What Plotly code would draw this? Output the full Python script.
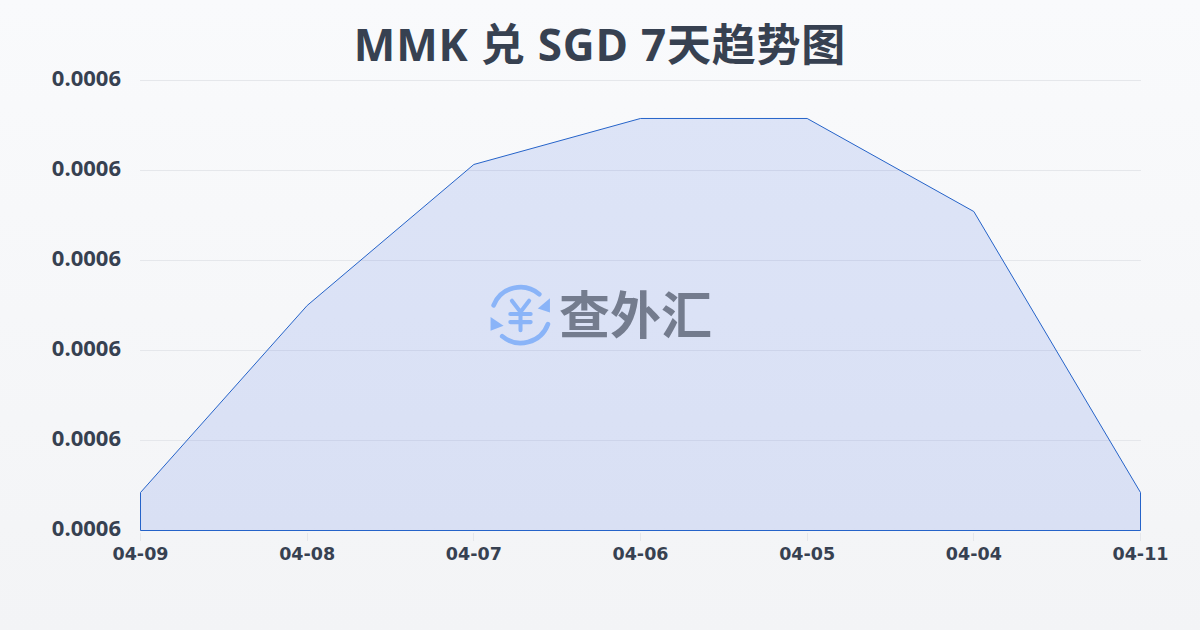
import base64
import plotly.graph_objects as go

dates = ["04-09", "04-08", "04-07", "04-06", "04-05", "04-04", "04-11"]
rates = [0.000584222, 0.000605, 0.00062067, 0.00062578, 0.00062578, 0.00061544, 0.000584222]
y_ticks = [0.00058, 0.00059, 0.00060, 0.00061, 0.00062, 0.00063]
baseline = 0.00058
title = "MMK 兑 SGD 7天趋势图"
watermark = "查外汇"

INK = "#374151"
CJK = "Noto Sans CJK SC"

bg_svg = ('<svg xmlns="http://www.w3.org/2000/svg" width="1200" height="630">'
          '<defs><linearGradient id="g" x1="0" y1="0" x2="0" y2="1">'
          '<stop offset="0" stop-color="#f9fafc"/><stop offset="1" stop-color="#f3f4f6"/>'
          '</linearGradient></defs><rect width="1200" height="630" fill="url(#g)"/></svg>')
logo_svg = ('<svg xmlns="http://www.w3.org/2000/svg" width="64" height="64" viewBox="0 0 64 64">'
            '<g fill="none" stroke="#8ab4f8" stroke-width="4.6" stroke-linecap="round">'
            '<path d="M6 21.5 A28.5 28.5 0 0 1 51 10.5"/><path d="M59.5 40 A28.5 28.5 0 0 1 14.5 52"/>'
            '<path d="M24 17 L32.5 28 L41 17 M22.5 30 H42.5 M22.5 38 H42.5 M32.5 28 V46" stroke-width="4"/></g>'
            '<path d="M61.5 14.5 L61.5 28.5 L49.5 24.5 Z" fill="#8ab4f8"/>'
            '<path d="M3 33 L3 46.5 L15.8 41.5 Z" fill="#8ab4f8"/></svg>')


def uri(s):
    return "data:image/svg+xml;base64," + base64.b64encode(s.encode()).decode()


# plot box runs a little past the data so the edge gridlines survive and marks land on pixel centres
L, T, PW, PH = 140, 78, 1001, 454
UNIT = 0.00005 / 450
y_lo = baseline - 1.5 * UNIT
y_hi = baseline + 452.5 * UNIT


def px(x):
    return (x - L) / PW


def py(y):
    return (T + PH - y) / PH


fig = go.Figure()
fig.add_trace(go.Scatter(
    x=dates + [dates[-1], dates[0], dates[0]],
    y=rates + [baseline, baseline, rates[0]],
    mode="lines",
    line=dict(color="#2563c9", width=1),
    fill="toself",
    fillcolor="rgba(65,105,225,0.15)",
    hoverinfo="skip",
    cliponaxis=False,
    showlegend=False,
))
fig.update_layout(
    width=1200, height=630,
    margin=dict(l=L, r=1200 - L - PW, t=T, b=630 - T - PH),
    paper_bgcolor="rgba(0,0,0,0)",
    plot_bgcolor="rgba(0,0,0,0)",
    title=dict(text=title, x=0.5, xanchor="center", y=0.928, yanchor="middle",
               font=dict(family="Open Sans, " + CJK, size=44, color=INK, weight="bold")),
    xaxis=dict(type="category", categoryorder="array", categoryarray=dates, range=[-0.003, 6.003],
               showgrid=False, zeroline=False, showline=False,
               ticks="outside", ticklen=8, tickcolor="#e5e7eb", tickwidth=1,
               tickfont=dict(family="DejaVu Sans", size=17.5, color=INK, weight="bold")),
    yaxis=dict(range=[y_lo, y_hi], tickvals=y_ticks, tickformat=".4f",
               showgrid=True, gridcolor="#e5e7eb", gridwidth=1, zeroline=False, showline=False,
               ticks="", ticklabelstandoff=18,
               tickfont=dict(family="Open Sans", size=22, color=INK, weight="bold")),
    images=[
        dict(source=uri(bg_svg), xref="paper", yref="paper", x=px(0), y=py(0),
             sizex=1200 / PW, sizey=630 / PH, sizing="stretch", xanchor="left", yanchor="top", layer="below"),
        dict(source=uri(logo_svg), xref="paper", yref="paper", x=px(487.5), y=py(283.5),
             sizex=65 / PW, sizey=65 / PH, sizing="contain", xanchor="left", yanchor="top", layer="above"),
    ],
    annotations=[dict(text=watermark, xref="paper", yref="paper", x=px(635), y=py(312),
                      xanchor="center", yanchor="middle", showarrow=False,
                      font=dict(family=CJK, size=51, color="#747c8e", weight="bold"))],
)
post = """
document.body.style.margin='0';
document.querySelectorAll('.ytick text, .xtick text').forEach(function(t){
  t.setAttribute('y', parseFloat(t.getAttribute('y')) - 2);
});
document.querySelectorAll('.gtitle').forEach(function(t){ t.style.letterSpacing='0.8px'; });
"""
fig.write_html("out.html", config={"displayModeBar": False}, post_script=post)
